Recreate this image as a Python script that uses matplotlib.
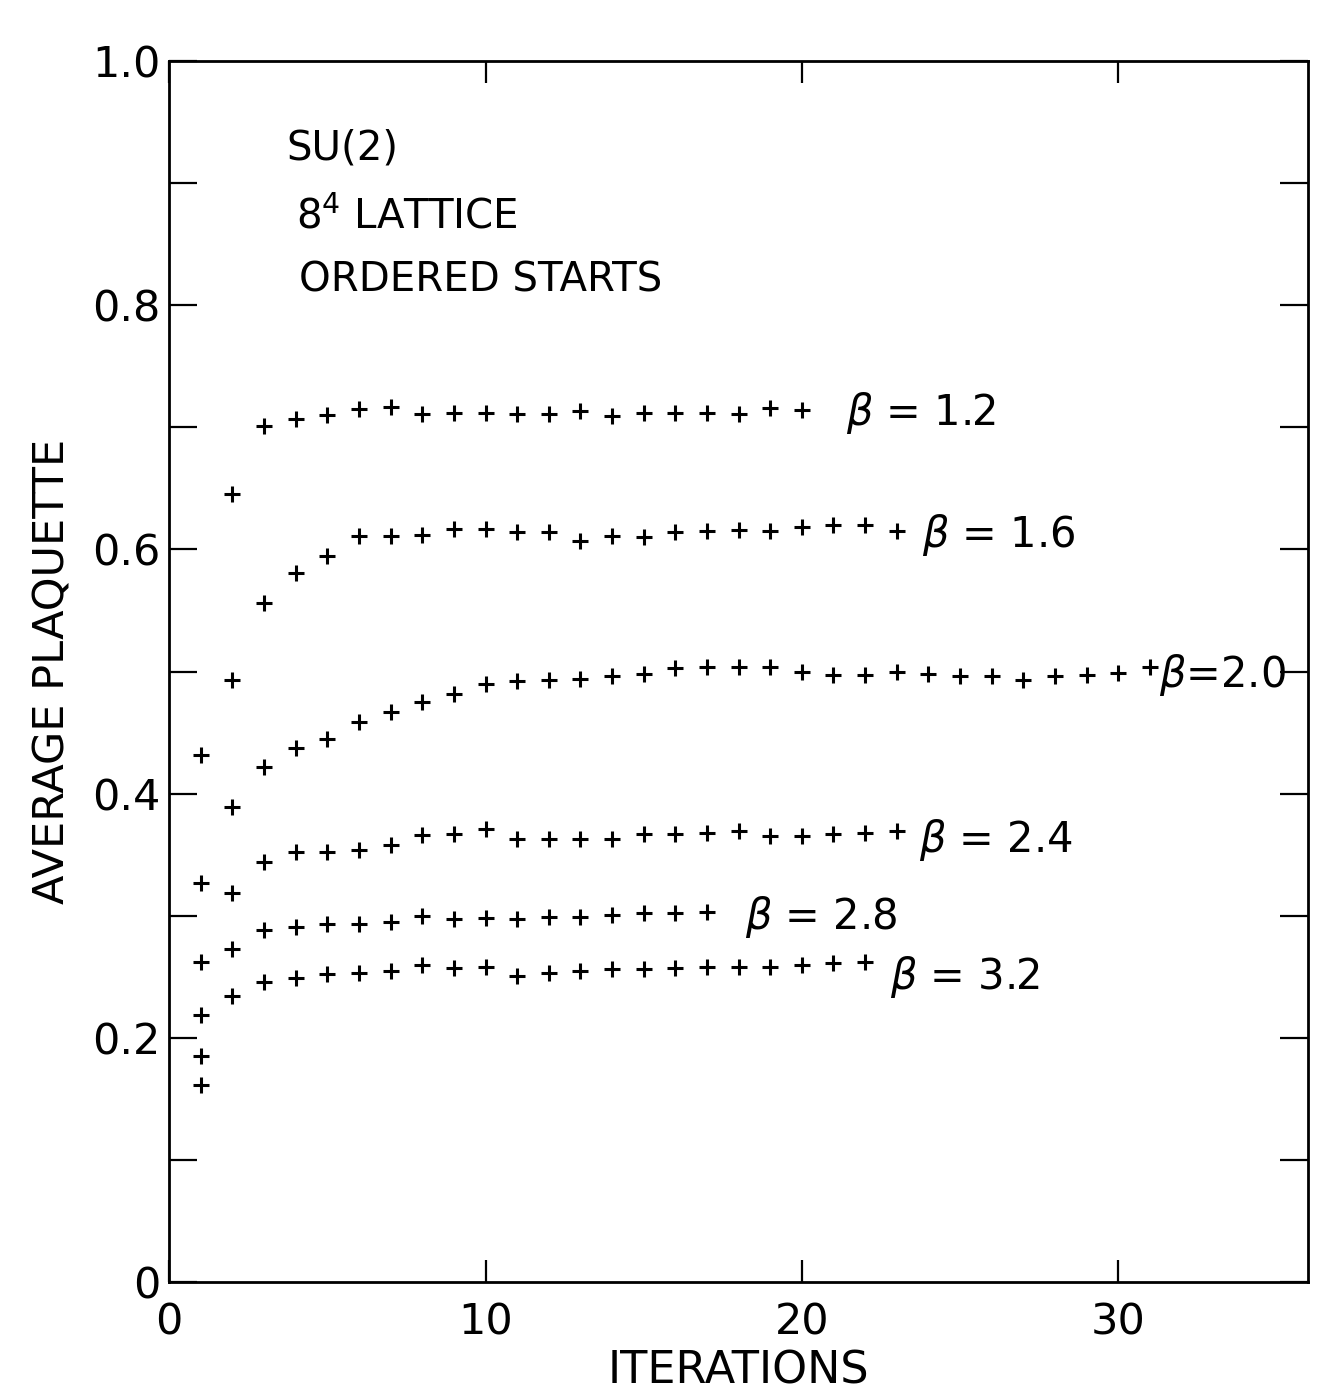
import matplotlib
matplotlib.use("Agg")
import matplotlib.pyplot as plt
from matplotlib.ticker import FixedLocator

plt.rcParams['font.family'] = ['DejaVu Sans']
plt.rcParams['mathtext.fontset'] = 'dejavusans'

# average plaquette vs. iteration (iterations start at 1)
beta12 = [0.432, 0.645, 0.701, 0.707, 0.710, 0.715, 0.717, 0.711, 0.712, 0.712,
          0.711, 0.711, 0.713, 0.709, 0.712, 0.712, 0.712, 0.711, 0.716, 0.714]
beta16 = [0.327, 0.493, 0.556, 0.581, 0.595, 0.611, 0.611, 0.612, 0.617, 0.617,
          0.614, 0.614, 0.607, 0.611, 0.610, 0.614, 0.615, 0.616, 0.615, 0.618,
          0.620, 0.620, 0.615]
beta20 = [0.262, 0.389, 0.422, 0.437, 0.445, 0.459, 0.467, 0.475, 0.482, 0.490,
          0.492, 0.493, 0.494, 0.496, 0.498, 0.503, 0.504, 0.504, 0.504, 0.500,
          0.497, 0.497, 0.500, 0.498, 0.496, 0.496, 0.493, 0.496, 0.497, 0.499,
          0.504]
beta24 = [0.219, 0.319, 0.344, 0.352, 0.352, 0.354, 0.358, 0.366, 0.367, 0.371,
          0.363, 0.363, 0.363, 0.363, 0.367, 0.367, 0.368, 0.369, 0.365, 0.365,
          0.367, 0.368, 0.369]
beta28 = [0.185, 0.273, 0.288, 0.291, 0.293, 0.293, 0.295, 0.300, 0.297, 0.298,
          0.297, 0.299, 0.299, 0.301, 0.302, 0.302, 0.303]
beta32 = [0.161, 0.234, 0.246, 0.249, 0.252, 0.253, 0.255, 0.260, 0.257, 0.258,
          0.251, 0.253, 0.255, 0.256, 0.256, 0.257, 0.258, 0.258, 0.258, 0.260,
          0.261, 0.262]

series = [beta12, beta16, beta20, beta24, beta28, beta32]
labels = [r'$\beta$ = 1.2', r'$\beta$ = 1.6', r'$\beta$=2.0',
          r'$\beta$ = 2.4', r'$\beta$ = 2.8', r'$\beta$ = 3.2']
label_x = [21.4, 23.8, 31.3, 23.7, 18.2, 22.8]
label_y = [0.712, 0.612, 0.497, 0.362, 0.299, 0.250]

xticks = [0, 10, 20, 30]
yticks = [0.0, 0.1, 0.2, 0.3, 0.4, 0.5, 0.6, 0.7, 0.8, 0.9, 1.0]
yticks_lab = ['0', '', '0.2', '', '0.4', '', '0.6', '', '0.8', '', '1.0']

fig = plt.figure(figsize=(13.32, 13.97), dpi=100)
ax = fig.add_axes([0.127, 0.0823, 0.855, 0.874])

for vals in series:
    it = list(range(1, len(vals) + 1))
    ax.plot(it, vals, ls='none', marker='+', ms=11, mew=2.2, color='black')

for lab, lx, ly in zip(labels, label_x, label_y):
    ax.text(lx, ly, lab, fontsize=30, va='center', ha='left')

ax.text(3.7, 0.928, 'SU(2)', fontsize=29, va='center')
ax.text(4.0, 0.872, r'8$^4$ LATTICE', fontsize=29, va='center')
ax.text(4.1, 0.820, 'ORDERED STARTS', fontsize=29, va='center')

ax.xaxis.set_major_locator(FixedLocator(xticks))
ax.set_xticklabels([str(t) for t in xticks])
ax.yaxis.set_major_locator(FixedLocator(yticks))
ax.set_yticklabels(yticks_lab)
ax.set_xlim(0, 36)
ax.set_ylim(0, 1.0)

ax.tick_params(axis='both', direction='in', width=1.6, labelsize=31,
               top=True, right=True)
ax.tick_params(axis='x', length=16, pad=14)
ax.tick_params(axis='y', length=20, pad=6)
for sp in ax.spines.values():
    sp.set_linewidth(2.0)

ax.set_xlabel('ITERATIONS', fontsize=32, labelpad=4)
ax.set_ylabel('AVERAGE PLAQUETTE', fontsize=31, labelpad=14)

plt.savefig('out.png', dpi=100)
